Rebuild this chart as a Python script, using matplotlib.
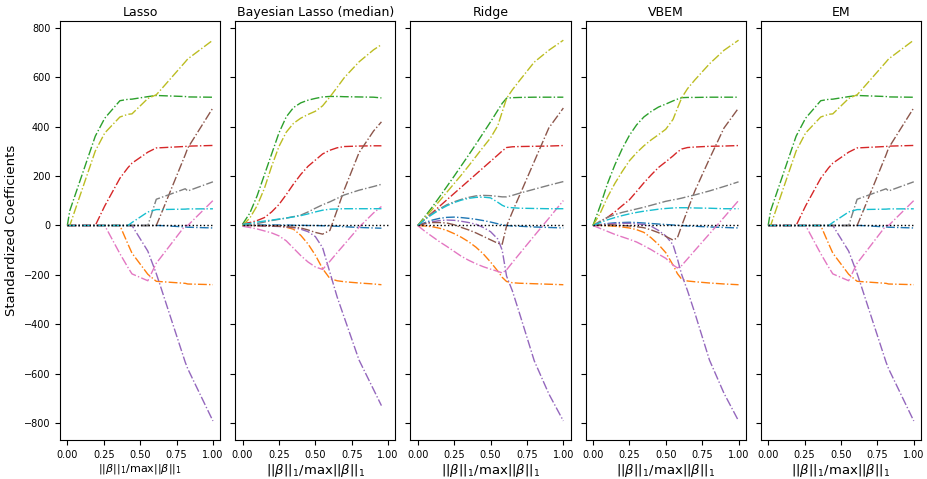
import matplotlib
matplotlib.use("Agg")
import matplotlib.pyplot as plt

coef_names = ["age", "sex", "bmi", "bp", "s1", "s2", "s3", "s4", "s5", "s6"]
colors = ["C0", "C1", "C2", "C3", "C4", "C5", "C6", "C7", "C8", "C9"]
titles = ["Lasso", "Bayesian Lasso (median)", "Ridge", "VBEM", "EM"]

# ---------------- Lasso (LARS path breakpoints) ----------------
lasso_x = [0, 0.017, 0.192, 0.257, 0.361, 0.416, 0.444, 0.553, 0.611, 0.635, 0.810, 0.827, 1.0]
lasso_age = [0, 0, 0, 0, 0, 0, 0, 0, 0, 0, -5.72, -7.01, -10.01]
lasso_sex = [0, 0, 0, 0, 0, -74.92, -111.98, -197.76, -226.13, -227.18, -234.40, -237.10, -239.82]
lasso_bmi = [0, 60.12, 361.89, 434.76, 505.66, 511.35, 512.04, 522.26, 526.89, 526.39, 522.65, 521.08, 519.84]
lasso_bp = [0, 0, 0, 79.24, 191.27, 234.15, 252.53, 297.16, 314.39, 314.95, 320.34, 321.55, 324.39]
lasso_s1 = [0, 0, 0, 0, 0, 0, 0, -103.95, -195.11, -237.34, -554.27, -580.44, -792.18]
lasso_s2 = [0, 0, 0, 0, 0, 0, 0, 0, 0, 33.63, 286.74, 313.86, 476.75]
lasso_s3 = [0, 0, 0, 0, -114.10, -169.71, -196.05, -223.93, -152.48, -134.60, 0, 0, 101.04]
lasso_s4 = [0, 0, 0, 0, 0, 0, 0, 0, 106.34, 111.38, 148.90, 139.86, 177.06]
lasso_s5 = [0, 0, 301.78, 374.92, 439.66, 450.67, 452.39, 514.75, 529.91, 545.48, 663.03, 674.94, 751.28]
lasso_s6 = [0, 0, 0, 0, 0, 0, 12.08, 54.77, 64.49, 64.61, 66.33, 67.18, 67.63]

# ---------------- Bayesian Lasso (median) ----------------
blasso_x = [0, 0.05, 0.1, 0.15, 0.2, 0.25, 0.3, 0.35, 0.4, 0.45, 0.5, 0.55, 0.6, 0.65, 0.7, 0.8, 0.9, 0.954]
blasso_age = [0, 1, 2, 2, 2, 2, 2, 1, 1, 0, 0, -1, -2, -3, -5, -8, -10, -11]
blasso_sex = [0, 0, -1, -1, -2, -3, -7, -15, -40, -75, -120, -175, -215, -224, -228, -233, -237, -240]
blasso_bmi = [5, 50, 120, 205, 290, 375, 440, 478, 497, 508, 515, 521, 523, 523, 522, 521, 520, 517]
blasso_bp = [7, 12, 20, 32, 55, 85, 125, 168, 207, 240, 265, 290, 305, 315, 320, 322, 323, 323]
blasso_s1 = [0, 0, -1, -2, -3, -4, -6, -9, -15, -25, -45, -90, -190, -290, -375, -545, -665, -730]
blasso_s2 = [0, 0, 0, -1, -2, -3, -5, -7, -10, -18, -28, -35, -20, 63, 147, 295, 383, 420]
blasso_s3 = [-3, -8, -14, -22, -30, -42, -62, -92, -122, -148, -168, -178, -145, -110, -76, -7, 51, 77]
blasso_s4 = [0, 3, 8, 14, 20, 25, 30, 36, 42, 55, 70, 84, 96, 110, 124, 143, 158, 167]
blasso_s5 = [0, 30, 80, 150, 240, 320, 378, 414, 435, 450, 463, 485, 521, 560, 600, 663, 712, 733]
blasso_s6 = [5, 8, 14, 18, 22, 26, 30, 35, 40, 47, 55, 62, 66, 67, 68, 68, 68, 68]

# ---------------- Ridge ----------------
ridge_x = [0, 0.05, 0.1, 0.15, 0.2, 0.25, 0.3, 0.35, 0.4, 0.45, 0.5, 0.55, 0.58, 0.61, 0.65, 0.7, 0.8, 0.9, 1.0]
ridge_age = [0, 12, 22, 29, 33, 34, 32, 29, 25, 20, 14, 7, 3, 0, -2, -3, -6, -8, -10]
ridge_sex = [0, -2, -5, -11, -20, -33, -48, -66, -88, -115, -148, -185, -210, -227, -232, -234, -236, -238, -240]
ridge_bmi = [0, 37, 75, 116, 158, 200, 243, 286, 330, 375, 420, 467, 495, 516, 518, 519, 520, 520, 520]
ridge_bp = [0, 26, 52, 78, 104, 130, 156, 182, 208, 234, 260, 286, 302, 316, 319, 320, 321, 322, 324]
ridge_s1 = [0, 8, 15, 20, 22, 21, 17, 12, 5, -8, -25, -55, -100, -205, -265, -358, -548, -682, -792]
ridge_s2 = [0, 8, 12, 12, 10, 3, -8, -18, -30, -44, -58, -72, -76, -2, 55, 123, 259, 395, 476]
ridge_s3 = [0, -24, -45, -66, -85, -105, -125, -141, -155, -167, -177, -186, -192, -180, -150, -114, -42, 29, 101]
ridge_s4 = [0, 28, 50, 68, 84, 96, 106, 114, 120, 122, 121, 118, 116, 116, 122, 131, 147, 163, 178]
ridge_s5 = [0, 32, 65, 100, 135, 170, 205, 242, 280, 318, 355, 405, 460, 515, 550, 588, 662, 710, 751]
ridge_s6 = [0, 25, 45, 64, 80, 93, 103, 110, 114, 115, 112, 94, 82, 74, 72, 70, 69, 68, 68]

# ---------------- VBEM ----------------
vbem_x = [0, 0.05, 0.1, 0.15, 0.2, 0.25, 0.3, 0.35, 0.4, 0.45, 0.5, 0.55, 0.58, 0.61, 0.65, 0.7, 0.8, 0.9, 1.0]
vbem_age = [0, 4, 8, 11, 12, 13, 12, 10, 8, 6, 4, 2, 1, 0, -2, -3, -6, -8, -10]
vbem_sex = [0, 0, -1, -3, -6, -10, -17, -28, -50, -77, -110, -160, -195, -218, -225, -228, -233, -237, -240]
vbem_bmi = [0, 80, 170, 245, 310, 365, 408, 440, 462, 480, 492, 505, 512, 518, 519, 519, 520, 520, 520]
vbem_bp = [0, 15, 33, 55, 80, 104, 138, 173, 205, 235, 258, 282, 298, 310, 316, 318, 321, 322, 324]
vbem_s1 = [0, 3, 6, 8, 9, 9, 7, 4, -3, -20, -42, -78, -135, -200, -265, -355, -545, -680, -792]
vbem_s2 = [0, 2, 3, 2, 0, -2, -5, -9, -18, -29, -44, -59, -50, 0, 63, 140, 270, 395, 476]
vbem_s3 = [0, -12, -24, -36, -46, -56, -67, -82, -98, -116, -133, -160, -172, -162, -135, -101, -34, 33, 101]
vbem_s4 = [0, 18, 33, 44, 53, 60, 67, 74, 82, 90, 98, 104, 107, 111, 117, 124, 140, 158, 177]
vbem_s5 = [0, 50, 115, 170, 218, 262, 295, 323, 347, 368, 390, 430, 475, 518, 555, 590, 655, 710, 751]
vbem_s6 = [0, 12, 23, 32, 40, 47, 53, 58, 62, 66, 69, 71, 72, 72, 72, 71, 70, 68, 68]

# ---------------- EM ----------------
em_x = [0, 0.017, 0.192, 0.257, 0.361, 0.416, 0.444, 0.553, 0.611, 0.635, 0.810, 0.827, 1.0]
em_age = [0, 0, 0, 0, 0, 0, 0, 0, 0, 0, -5.7, -7.0, -10.0]
em_sex = [0, 0, 0, 0, 0, -74.9, -112.0, -197.8, -226.1, -227.2, -234.4, -237.1, -239.8]
em_bmi = [0, 60.1, 361.9, 434.8, 505.7, 511.4, 512.0, 522.3, 526.9, 526.4, 522.7, 521.1, 519.8]
em_bp = [0, 0, 0, 79.2, 191.3, 234.2, 252.5, 297.2, 314.4, 315.0, 320.3, 321.6, 324.4]
em_s1 = [0, 0, 0, 0, 0, 0, 0, -104.0, -195.1, -237.3, -554.3, -580.4, -792.2]
em_s2 = [0, 0, 0, 0, 0, 0, 0, 0, 0, 33.6, 286.7, 313.9, 476.8]
em_s3 = [0, 0, 0, 0, -114.1, -169.7, -196.1, -223.9, -152.5, -134.6, 0, 0, 101.0]
em_s4 = [0, 0, 0, 0, 0, 0, 0, 0, 106.3, 111.4, 148.9, 139.9, 177.1]
em_s5 = [0, 0, 301.8, 374.9, 439.7, 450.7, 452.4, 514.8, 529.9, 545.5, 663.0, 674.9, 751.3]
em_s6 = [0, 0, 0, 0, 0, 0, 12.1, 54.8, 64.5, 64.6, 66.3, 67.2, 67.6]

zero_x = [0, 1]
zero_y = [0, 0]

panels = [
    (lasso_x, [lasso_age, lasso_sex, lasso_bmi, lasso_bp, lasso_s1, lasso_s2, lasso_s3, lasso_s4, lasso_s5, lasso_s6]),
    (blasso_x, [blasso_age, blasso_sex, blasso_bmi, blasso_bp, blasso_s1, blasso_s2, blasso_s3, blasso_s4, blasso_s5, blasso_s6]),
    (ridge_x, [ridge_age, ridge_sex, ridge_bmi, ridge_bp, ridge_s1, ridge_s2, ridge_s3, ridge_s4, ridge_s5, ridge_s6]),
    (vbem_x, [vbem_age, vbem_sex, vbem_bmi, vbem_bp, vbem_s1, vbem_s2, vbem_s3, vbem_s4, vbem_s5, vbem_s6]),
    (em_x, [em_age, em_sex, em_bmi, em_bp, em_s1, em_s2, em_s3, em_s4, em_s5, em_s6]),
]

fig = plt.figure(figsize=(9.28, 4.79), dpi=100)
axes = fig.subplots(1, 5, sharey=True)
fig.subplots_adjust(left=0.0647, right=0.9925, bottom=0.0814, top=0.956, wspace=0.094)

xlabel = r"$||\beta||_1/\mathrm{max}||\beta||_1$"
for i, (ax, (xs, series)) in enumerate(zip(axes, panels)):
    for name, ys, c in zip(coef_names, series, colors):
        ax.plot(xs, ys, linestyle="-.", color=c, linewidth=1.0, label=name)
    ax.plot(zero_x, zero_y, "k:", linewidth=1.0)
    ax.set_xlim(-0.05, 1.05)
    ax.set_xticks([0, 0.25, 0.5, 0.75, 1.0])
    ax.set_title(titles[i], fontsize=9, pad=4)
    ax.tick_params(labelsize=7)
    ax.set_xlabel(xlabel, fontsize=8 if i == 0 else 9.5, labelpad=1.5)

axes[0].set_ylabel("Standardized Coefficients", fontsize=9.5)
axes[0].set_yticks([-800, -600, -400, -200, 0, 200, 400, 600, 800])

fig.savefig("out.png", dpi=100)
